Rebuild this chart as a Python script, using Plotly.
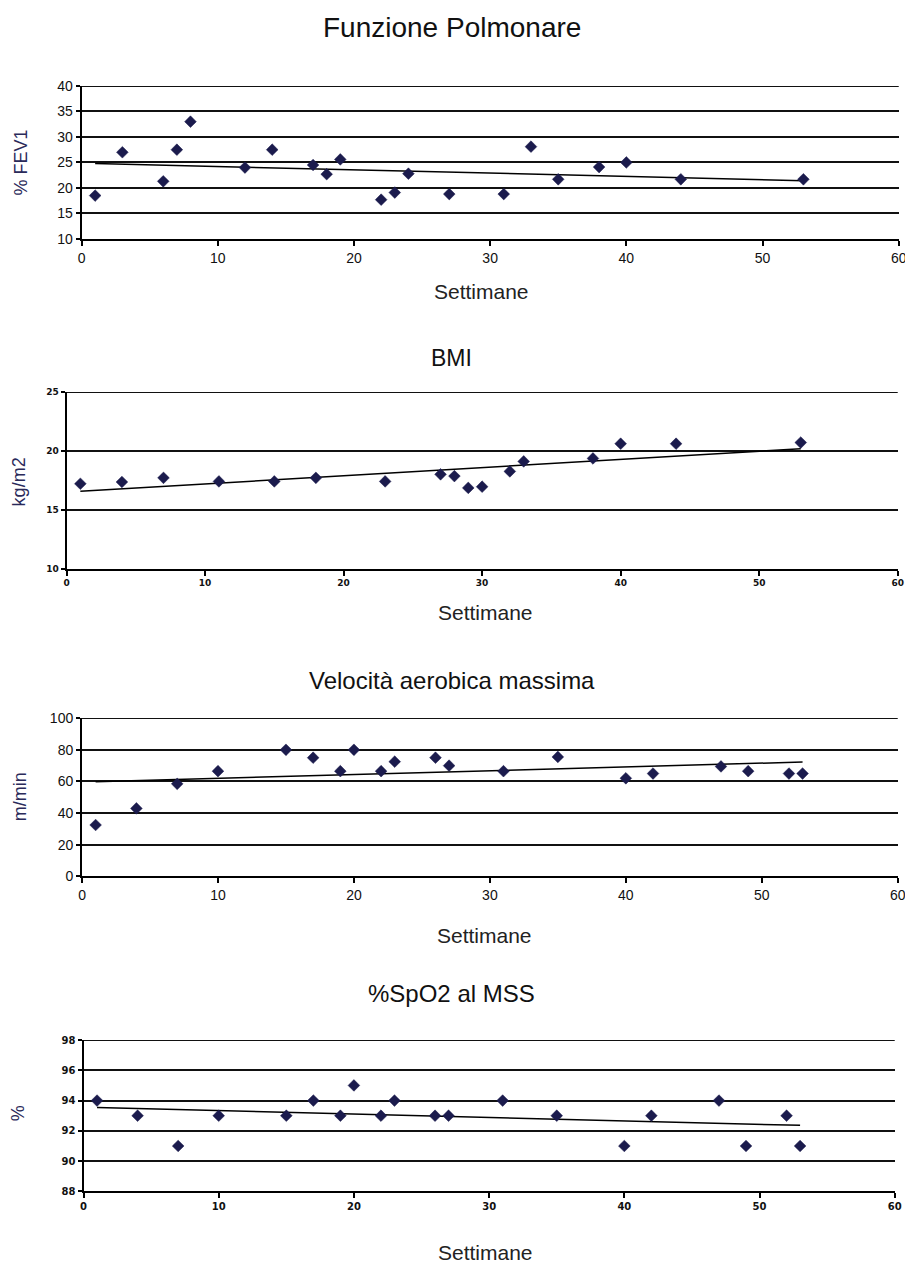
import numpy as np
import plotly.graph_objects as go

# ---------------- data ----------------
fev_weeks = [1, 3, 6, 7, 8, 12, 14, 17, 18, 19, 22, 23, 24, 27, 31, 33, 35, 38, 40, 44, 53]
fev_values = [18.5, 27, 21.3, 27.5, 33, 24, 27.5, 24.5, 22.7, 25.6, 17.7, 19.1, 22.8, 18.8, 18.8, 28.1, 21.7, 24.1, 25, 21.7, 21.7]

bmi_weeks = [1, 4, 7, 11, 15, 18, 23, 27, 28, 29, 30, 32, 33, 38, 40, 44, 53]
bmi_values = [17.2, 17.35, 17.7, 17.4, 17.4, 17.7, 17.4, 18.0, 17.85, 16.85, 16.95, 18.25, 19.1, 19.35, 20.6, 20.6, 20.7]

vam_weeks = [1, 4, 7, 10, 15, 17, 19, 20, 22, 23, 26, 27, 31, 35, 40, 42, 47, 49, 52, 53]
vam_values = [32.5, 43, 58.5, 66.5, 80, 75, 66.5, 80, 66.5, 72.5, 75, 70, 66.5, 75.5, 62, 65, 69.5, 66.5, 65, 65]

spo2_weeks = [1, 4, 7, 10, 15, 17, 19, 20, 22, 23, 26, 27, 31, 35, 40, 42, 47, 49, 52, 53]
spo2_values = [94, 93, 91, 93, 93, 94, 93, 95, 93, 94, 93, 93, 94, 93, 91, 93, 94, 91, 93, 91]

titles = ["Funzione Polmonare", "BMI", "Velocità aerobica massima", "%SpO2 al MSS"]
y_titles = ["% FEV1", "kg/m2", "m/min", "%"]
x_title = "Settimane"
x_ticks = [0, 10, 20, 30, 40, 50, 60]

# ---------------- layout ----------------
W, H = 913, 1264
# target screen positions are converted to figure fractions (page offset/scale compensation)
SX, OX = 0.9866, 11.5
SY, OY = 0.9876, 15.0


def px(x):
    return (x - OX) / SX / W


def py(y):
    return 1 - (y - OY) / SY / H


panels = [
    dict(wk=fev_weeks, val=fev_values, x0=81, x1=898, top=85, bot=238, yr=(10, 40), dt=5,
         tf=dict(family="Liberation Sans, Arial", size=14, color="#111"),
         title_y=27, title_size=28, xt=(481, 291), yt=(20, 162)),
    dict(wk=bmi_weeks, val=bmi_values, x0=66, x1=897, top=391, bot=567.7, yr=(10, 25), dt=5,
         tf=dict(family="DejaVu Sans, Arial", size=9, color="#111", weight="bold"),
         title_y=357, title_size=23, xt=(485, 612), yt=(18, 481)),
    dict(wk=vam_weeks, val=vam_values, x0=81.5, x1=897, top=717.3, bot=875.7, yr=(0, 100), dt=20,
         tf=dict(family="Liberation Sans, Arial", size=14, color="#111"),
         title_y=680, title_size=24, xt=(484, 935), yt=(19, 796)),
    dict(wk=spo2_weeks, val=spo2_values, x0=83, x1=894, top=1039.3, bot=1190.7, yr=(88, 98), dt=2,
         tf=dict(family="DejaVu Sans, Arial", size=10, color="#111", weight="bold"),
         title_y=993, title_size=24, xt=(485, 1252), yt=(17, 1113)),
]

fig = go.Figure()
annotations = []
shapes = []
marker_color = "#1b1b4d"

for i, p in enumerate(panels, start=1):
    xa = "x" if i == 1 else f"x{i}"
    ya = "y" if i == 1 else f"y{i}"
    wk = np.array(p["wk"], dtype=float)
    val = np.array(p["val"], dtype=float)

    # linear trendline (least squares) over the data span
    k, b = np.polyfit(wk, val, 1)
    tx = np.array([wk.min(), wk.max()])
    fig.add_trace(go.Scatter(x=tx, y=k * tx + b, mode="lines",
                             line=dict(color="black", width=1.5),
                             xaxis=xa, yaxis=ya, showlegend=False, hoverinfo="skip"))
    fig.add_trace(go.Scatter(x=wk, y=val, mode="markers",
                             marker=dict(symbol="diamond", size=9, color=marker_color,
                                         line=dict(color=marker_color, width=0.5)),
                             xaxis=xa, yaxis=ya, showlegend=False))

    xkey = "xaxis" if i == 1 else f"xaxis{i}"
    ykey = "yaxis" if i == 1 else f"yaxis{i}"
    fig.update_layout(**{
        xkey: dict(domain=[px(p["x0"]), px(p["x1"])], range=[0, 60], anchor=ya, tickvals=x_ticks,
                   showgrid=False, zeroline=False, showline=True, linecolor="black", linewidth=2,
                   ticks="outside", ticklen=5, tickwidth=1.5, tickcolor="black",
                   tickfont=p["tf"], fixedrange=True),
        ykey: dict(domain=[py(p["bot"]), py(p["top"])], range=list(p["yr"]), anchor=xa,
                   dtick=p["dt"], tick0=p["yr"][0],
                   showgrid=True, gridcolor="#111", gridwidth=2, zeroline=False,
                   showline=True, linecolor="black", linewidth=2,
                   ticks="outside", ticklen=4, tickwidth=1.5, tickcolor="black",
                   tickfont=p["tf"], fixedrange=True),
    })

    # top gridline (plotly drops gridlines lying on the plot edge)
    shapes.append(dict(type="line", xref=f"{xa} domain", yref=ya, x0=0, x1=1,
                       y0=p["yr"][1], y1=p["yr"][1], layer="below",
                       line=dict(color="#111", width=2)))

    annotations.append(dict(text=titles[i - 1], x=px(451), y=py(p["title_y"]),
                            xref="paper", yref="paper", showarrow=False,
                            xanchor="center", yanchor="middle",
                            font=dict(family="Liberation Sans, Arial", size=p["title_size"], color="#111")))
    annotations.append(dict(text=x_title, x=px(p["xt"][0]), y=py(p["xt"][1]),
                            xref="paper", yref="paper", showarrow=False,
                            xanchor="center", yanchor="middle",
                            font=dict(family="Liberation Sans, Arial", size=21, color="#222")))
    annotations.append(dict(text=y_titles[i - 1], x=px(p["yt"][0]), y=py(p["yt"][1]),
                            xref="paper", yref="paper", showarrow=False, textangle=-90,
                            xanchor="center", yanchor="middle",
                            font=dict(family="Liberation Sans, Arial", size=18, color="#2a2a5a")))

fig.update_layout(width=W, height=H, margin=dict(l=0, r=0, t=0, b=0),
                  paper_bgcolor="white", plot_bgcolor="white",
                  annotations=annotations, shapes=shapes, showlegend=False)

fig.write_html("out.html")
